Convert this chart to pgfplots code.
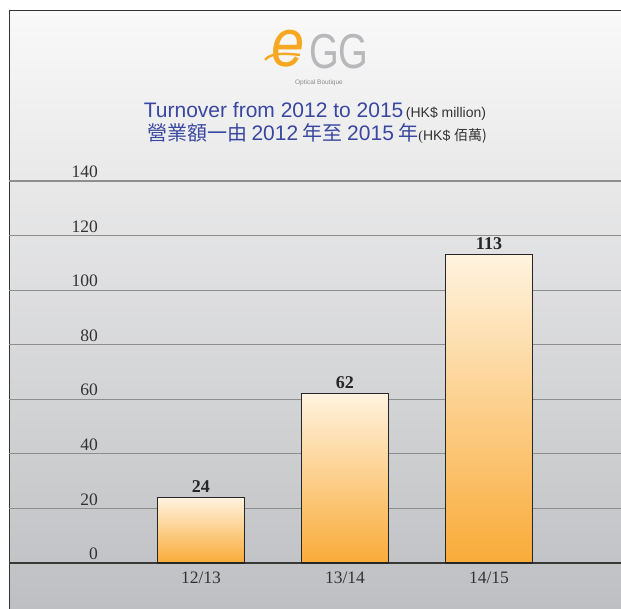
\documentclass[border=0pt]{standalone}
\usepackage{pgfplots}
\pgfplotsset{compat=1.18}
\usepackage{graphicx}
\usepackage{fontspec}
\setmainfont{Liberation Serif}
\newfontfamily\sans{Liberation Sans}
\newfontfamily\bser{Liberation Serif}
\newfontfamily\cjk{Noto Sans CJK TC}
\definecolor{tblue}{HTML}{3A47A0}
\definecolor{logoorange}{HTML}{F7A823}
\definecolor{logogray}{HTML}{B8B8BA}
\definecolor{bartop}{HTML}{FFF3DF}
\definecolor{barbot}{HTML}{F9AB38}
\definecolor{bgtop}{HTML}{F9F9F9}
\definecolor{bgbot}{HTML}{BEBFC2}
\definecolor{gridc}{HTML}{8E8E8E}
\definecolor{txt}{HTML}{333333}
\begin{document}
\begin{tikzpicture}[x=1pt,y=1pt]
\useasboundingbox (0,0) rectangle (621,609);
\clip (0,0) rectangle (621,609);
\fill[white] (0,0) rectangle (621,609);
% background panel
\shade[top color=bgtop, bottom color=bgbot] (9,-2) rectangle (630,598);
\draw[black!80, line width=1pt] (9,-2) -- (9,598) -- (630,598);
% logo
\node[anchor=base, text=logoorange, inner sep=0] at (288,542) {\scalebox{1.15}[1.3]{\sans\itshape\fontsize{52}{52}\selectfont e}};
\draw[logoorange, line width=2.4pt] (265,549) .. controls (270,556) and (284,556) .. (300,554);
\node[anchor=base west, text=logogray, inner sep=0] at (309,540) {\scalebox{0.78}[1]{\sans\fontsize{49}{49}\selectfont GG}};
\node[anchor=center, text=black!45, inner sep=0] at (319,526) {\sans\fontsize{6.5}{6.5}\selectfont Optical Boutique};
% title
\node[anchor=base, inner sep=0] at (315,491) {{\sans\fontsize{21}{21}\selectfont\color{tblue}Turnover from 2012 to 2015} {\sans\fontsize{14}{14}\selectfont\color{txt}(HK\$ million)}};
\node[anchor=base, inner sep=0] at (317,468) {{\color{tblue}\cjk\fontsize{20}{20}\selectfont 營業額一由 {\sans\fontsize{21}{21}\selectfont 2012} 年至 {\sans\fontsize{21}{21}\selectfont 2015} 年}{\color{txt}\fontsize{14}{14}\selectfont(\sans HK\$ \cjk 佰萬)}};
\begin{axis}[
  at={(9pt,46pt)}, anchor=south west,
  scale only axis, width=612pt, height=382pt,
  xmin=-1.3333, xmax=2.9167, ymin=0, ymax=140,
  axis x line*=bottom, axis y line*=left,
  x axis line style={draw=black!78, line width=1.6pt},
  y axis line style={draw=none},
  /pgf/number format/assume math mode=true,
  xtick={0,1,2}, xticklabels={12/13,13/14,14/15},
  major tick length=0pt,
  ytick={0,20,...,140},
  ymajorgrids, grid style={gridc, line width=1.1pt},
  tick label style={text=txt, font=\fontsize{17.5}{17.5}\selectfont},
  xticklabel style={yshift=-5pt},
  yticklabel style={anchor=south east, inner sep=1pt, xshift=90pt, yshift=2pt},
  clip=false,
  mybar/.style={ybar, bar width=87pt, bar shift=0pt, draw=black!85, line width=1.2pt,
    top color=bartop, bottom color=barbot, mark=none,
    nodes near coords,
    every node near coord/.append style={font=\bser\bfseries\fontsize{18}{18}\selectfont, text=black!85, anchor=south, yshift=1pt}},
]
\addplot[mybar] coordinates {(0,24)};
\addplot[mybar] coordinates {(1,62)};
\addplot[mybar] coordinates {(2,113)};
\end{axis}
\end{tikzpicture}
\end{document}
